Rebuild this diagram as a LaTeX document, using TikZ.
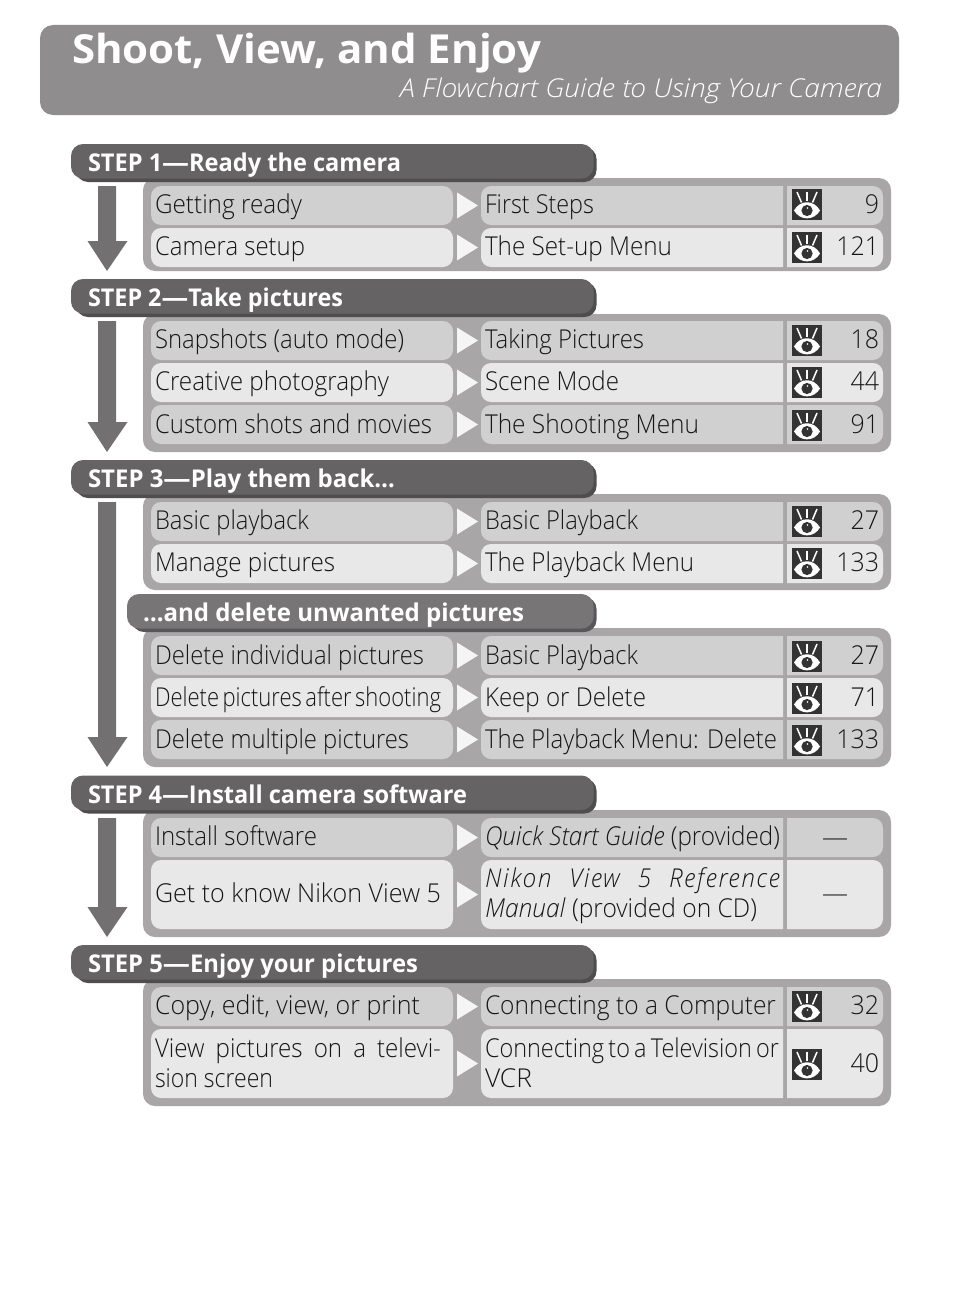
\documentclass[tikz,border=0pt]{standalone}
\usepackage{fontspec}
\usepackage{graphicx}
\setmainfont{Open Sans}[UprightFont=* Light,ItalicFont=* Light Italic,BoldFont=* Bold,BoldItalicFont=* Bold Italic]
\definecolor{hdr}{HTML}{8F8D8E}
\definecolor{panelc}{HTML}{A8A6A7}
\definecolor{barc}{HTML}{656364}
\definecolor{barsh}{HTML}{4F4D4E}
\definecolor{subc}{HTML}{777576}
\definecolor{subsh}{HTML}{58565A}
\definecolor{rowa}{HTML}{D0D0D0}
\definecolor{rowb}{HTML}{E8E8E8}
\definecolor{tri}{HTML}{F5F5F5}
\definecolor{arrc}{HTML}{727071}
\definecolor{ink}{HTML}{161616}
\definecolor{eyebg}{HTML}{333333}
\newcount\tn
\newcommand\dk{\scalebox{1.14}[1]{—}}
\tikzset{
  lab/.style={inner sep=0pt,outer sep=0pt,text=ink,anchor=base west,font=\fontsize{26}{30}\selectfont},
  barlab/.style={lab,text=white,font=\fontsize{24.5}{28}\selectfont\bfseries},
  pic eye/.pic={
    \fill[eyebg] (0,0) rectangle (30,31);
    \draw[white,line width=1.5pt] (15,2.5) -- (15,12);
    \draw[white,line width=1.5pt] (5,3) -- (9.5,13.5);
    \draw[white,line width=1.5pt] (25,3) -- (20.5,13.5);
    \fill[white] (2,21.5) .. controls (8,10.5) and (22,10.5) .. (28,21.5) .. controls (22,32) and (8,32) .. (2,21.5) -- cycle;
    \fill[eyebg] (15,21.5) circle (5.6);
    \fill[white] (15.5,19) circle (0.8);
  }
}
% x, baseline, width, text: fitted left-aligned text
\newcommand\TXT[4]{\global\advance\tn 1 \node[lab] (t\the\tn) at (#1,#2-0.7) {\resizebox{#3pt}{\height}{#4}};}
% justified by word spaces, then fitted: x, baseline, width, natural box width, text
\newcommand\JTXT[5]{\global\advance\tn 1 \node[lab] (t\the\tn) at (#1,#2-0.7) {\resizebox{#3pt}{\height}{\makebox[#4pt][s]{#5}}};}
\newcommand\NUM[2]{\global\advance\tn 1 \node[lab,anchor=base east] (t\the\tn) at (879,#1-0.7) {\scalebox{.96}[1]{#2}};}
\newcommand\BAR[5]{% top, x, text x, text width, text
  \fill[barsh,rounded corners=12] (76,#1+3) rectangle (596.5,#1+38);
  \fill[barc,rounded corners=12] (71,#1) rectangle (593.5,#1+34.5);
  \global\advance\tn 1 \node[barlab] (t\the\tn) at (88,#1+27.5) {\resizebox{#4pt}{\height}{#5}};}
\newcommand\PANEL[2]{\fill[panelc,rounded corners=12] (143,#1) rectangle (891,#2);}
\newcommand\ROW[3]{% top, bottom, colour
  \fill[#3,rounded corners=10] (151,#1) rectangle (453,#2);
  \fill[#3] (783,#1) [rounded corners=10] -- (481,#1) -- (481,#2) [sharp corners] -- (783,#2) -- cycle;
  \fill[#3] (787,#1) [rounded corners=10] -- (883,#1) -- (883,#2) [sharp corners] -- (787,#2) -- cycle;
  \fill[tri] (457,{(#1+#2)/2-13}) -- (478,{(#1+#2)/2}) -- (457,{(#1+#2)/2+13}) -- cycle;}
\newcommand\ARROW[3]{% top, head start, tip
  \fill[arrc] (98,#1) -- (116,#1) -- (116,#2) -- (127.5,#2) -- (107,#3) -- (87.5,#2) -- (98,#2) -- cycle;}
\newcommand\EYE[1]{\pic at (792,#1) {pic eye};}
\begin{document}
\begin{tikzpicture}[x=1pt,y=-1pt]
\useasboundingbox (0,0) rectangle (954,1314);
\fill[white] (0,0) rectangle (954,1314);
% header
\fill[hdr,rounded corners=13] (40,25) rectangle (899,115);
\node[lab,text=white,font=\fontsize{40}{44}\selectfont\bfseries] (title) at (72,63.5) {\resizebox{469pt}{\height}{Shoot, View, and Enjoy}};
\node[lab,text=white,font=\fontsize{26}{30}\selectfont\itshape] (subtitle) at (400,97) {\resizebox{482pt}{\height}{A Flowchart Guide to Using Your Camera}};
% panels
\PANEL{178}{271}\PANEL{314}{452}\PANEL{494}{590}\PANEL{628}{767}\PANEL{810}{937}\PANEL{979}{1106}
% arrows
\ARROW{186}{241}{271}
\ARROW{321}{422}{452}
\ARROW{502}{737}{767}
\ARROW{818}{907}{937}
% bars
\BAR{144}{71}{88}{313}{STEP 1\dk Ready the camera}
\BAR{279}{71}{88}{255}{STEP 2\dk Take pictures}
\BAR{460}{71}{88}{307}{STEP 3\dk Play them back…}
\fill[subsh,rounded corners=12] (132,597) rectangle (596.5,632);
\fill[subc,rounded corners=12] (127,594) rectangle (593.5,628.5);
\node[barlab] (subbar) at (143,621.5) {\resizebox{381pt}{\height}{…and delete unwanted pictures}};
\BAR{775.5}{71}{88}{379}{STEP 4\dk Install camera software}
\BAR{945}{71}{88}{330}{STEP 5\dk Enjoy your pictures}
% rows
\ROW{186}{225}{rowa}\ROW{228}{267}{rowb}
\ROW{321}{360}{rowa}\ROW{363}{402}{rowb}\ROW{405}{444}{rowa}
\ROW{502}{541}{rowa}\ROW{544}{583}{rowb}
\ROW{636}{675}{rowa}\ROW{678}{717}{rowb}\ROW{720}{759}{rowa}
\ROW{818}{857}{rowa}\ROW{860}{929}{rowb}
\ROW{987}{1026}{rowa}\ROW{1029}{1098}{rowb}
% eyes
\EYE{189}\EYE{232}\EYE{325}\EYE{367}\EYE{410}\EYE{506}\EYE{548}\EYE{641}\EYE{683}\EYE{725}\EYE{991}\EYE{1049}
% left column
\TXT{155}{214}{147}{Getting ready}
\TXT{155}{256}{150}{Camera setup}
\TXT{155}{349}{249}{Snapshots (auto mode)}
\TXT{155}{391}{234}{Creative photography}
\TXT{155}{434}{277}{Custom shots and movies}
\TXT{155}{530}{154}{Basic playback}
\TXT{155}{572}{180}{Manage pictures}
\TXT{155}{665}{269}{Delete individual pictures}
\TXT{155}{707}{286}{\spaceskip=.16em Delete pictures after shooting}
\TXT{155}{749}{254}{Delete multiple pictures}
\TXT{155}{846}{162}{Install software}
\TXT{155}{903}{286}{Get to know Nikon View 5}
\TXT{155}{1015}{265}{Copy, edit, view, or print}
\JTXT{155}{1057.7}{286}{308}{View pictures on a televi-}
\TXT{155}{1087.7}{118}{sion screen}
% middle column
\TXT{485}{214}{109}{First Steps}
\TXT{485}{256}{187}{The Set-up Menu}
\TXT{485}{349}{159}{Taking Pictures}
\TXT{485}{391}{134}{Scene Mode}
\TXT{485}{434}{214}{The Shooting Menu}
\TXT{485}{530}{153}{Basic Playback}
\TXT{485}{572}{209}{The Playback Menu}
\TXT{485}{665}{153}{Basic Playback}
\TXT{485}{707}{161}{Keep or Delete}
\TXT{485}{749}{292}{The Playback Menu: Delete}
\TXT{485}{846}{295}{\textit{Quick Start Guide} (provided)}
\JTXT{485}{888.5}{295}{315}{\itshape\addfontfeatures{LetterSpace=7} Nikon View 5 Reference}
\TXT{485}{917.7}{272}{\textit{Manual} (provided on CD)}
\TXT{485}{1015}{291}{Connecting to a Computer}
\TXT{485}{1057.7}{294}{\spaceskip=.18em Connecting to a Television or}
\TXT{485}{1087.7}{47}{VCR}
% numbers
\NUM{214}{9}\NUM{256}{121}\NUM{349}{18}\NUM{391}{44}\NUM{434}{91}
\NUM{530}{27}\NUM{572}{133}\NUM{665}{27}\NUM{707}{71}\NUM{749}{133}
\NUM{1015}{32}\NUM{1073}{40}
\node[lab,anchor=base] (dash1) at (835,846) {—};
\node[lab,anchor=base] (dash2) at (835,902) {—};
\end{tikzpicture}
\end{document}
